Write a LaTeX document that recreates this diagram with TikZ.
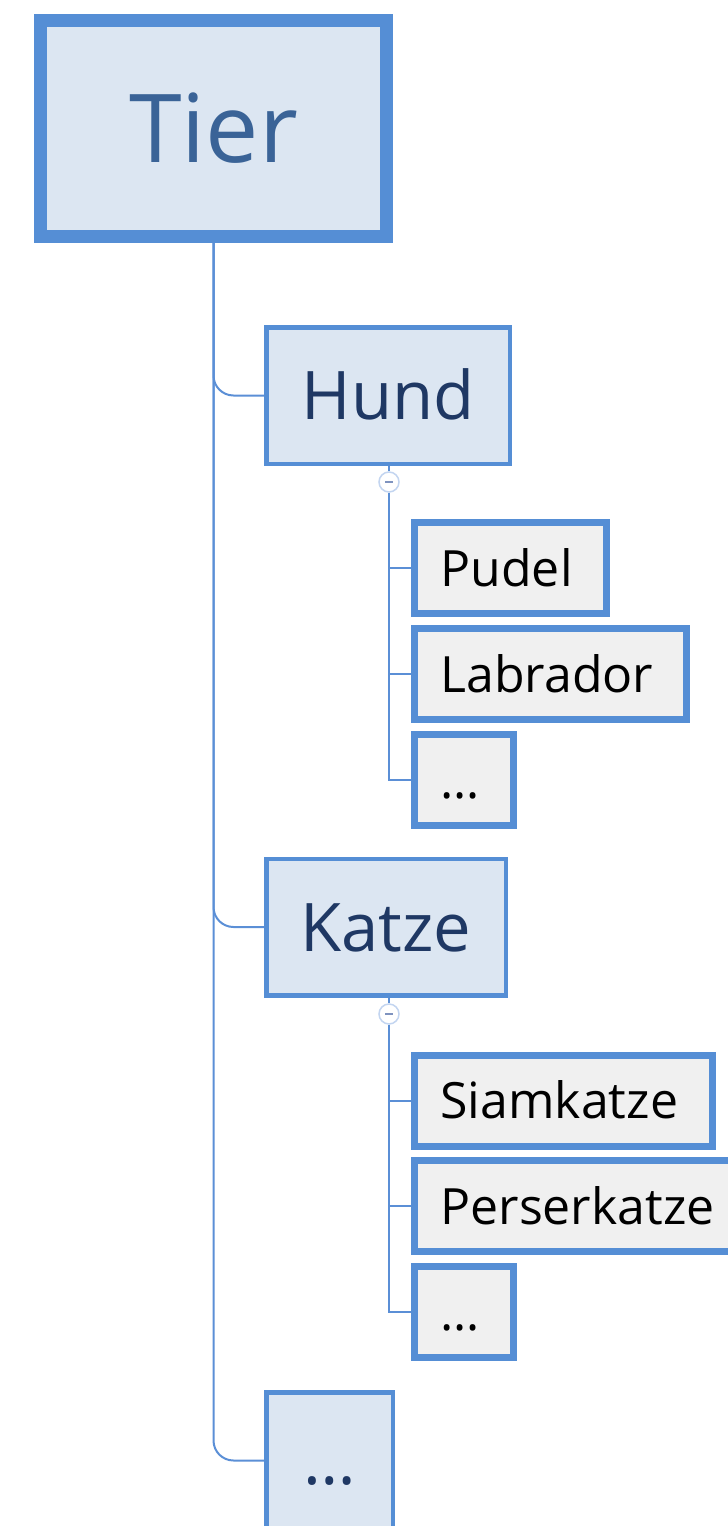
\documentclass[tikz,border=0pt]{standalone}
\usepackage{fontspec}
\setmainfont{Open Sans}
\definecolor{bord}{HTML}{558ED5}
\definecolor{pfill}{HTML}{DCE6F2}
\definecolor{lfill}{HTML}{F0F0F0}
\definecolor{navy}{HTML}{1F3864}
\definecolor{tiertext}{HTML}{3A6397}
\definecolor{conncol}{HTML}{5B8FD6}
\definecolor{collcol}{HTML}{C3D5F0}
\definecolor{minuscol}{HTML}{7F93BF}
\tikzset{
  rootbox/.style={draw=bord, fill=pfill, line width=13pt, inner sep=0pt,
    minimum width=346pt, minimum height=216pt, text=tiertext,
    font=\fontsize{95}{110}\selectfont, text height=67pt, text depth=0pt},
  parentbox/.style={draw=bord, fill=pfill, line width=4.5pt, inner sep=0pt,
    minimum height=136.5pt, text=navy,
    font=\fontsize{67}{78}\selectfont, text height=48pt, text depth=0pt},
  leafbox/.style={draw=bord, fill=lfill, line width=7pt, inner xsep=26pt, inner ysep=0pt,
    minimum height=91pt, anchor=west, align=left, text=black,
    font=\fontsize{50}{60}\selectfont, text height=36pt, text depth=0pt},
  conn/.style={draw=conncol, line width=2pt},
  mainconn/.style={conn, rounded corners=20pt},
  collbox/.style={circle, draw=collcol, fill=white, line width=1.5pt, minimum size=20pt, inner sep=0pt},
  minusline/.style={draw=minuscol, line width=1.5pt}
}
\begin{document}
\begin{tikzpicture}[x=1pt,y=-1pt]
\useasboundingbox (0,0) rectangle (728,1526);
\clip (0,0) rectangle (728,1526);

\node[rootbox] (tier) at (213.5,128.5) {Tier};
\node[parentbox, minimum width=243.5pt] (hund) at (388,395.5) {Hund};
\node[parentbox, minimum width=239.5pt] (katze) at (386,927) {Katze};
\node[parentbox, minimum width=126.5pt] (more) at (329.5,1460.5) {…};

\node[leafbox, text width=140pt] (pudel) at (411,568) {Pudel};
\node[leafbox, text width=220pt] (labrador) at (411,674) {Labrador};
\node[leafbox, text width=47pt] (hmore) at (411,780) {…};

\node[leafbox, text width=246pt] (siam) at (411,1100.5) {Siamkatze};
\node[leafbox, text width=270pt] (perser) at (411,1206) {Perserkatze};
\node[leafbox, text width=47pt] (kmore) at (411,1312) {…};

% main connectors
\draw[mainconn] (tier.south) |- (hund.west);
\draw[mainconn] (tier.south) |- (katze.west);
\draw[mainconn] (tier.south) |- (more.west);

% collapse markers
\node[collbox] (c1) at (389,482) {};
\node[collbox] (c2) at (389,1014) {};

\draw[conn] (c1 |- hund.south) -- (c1.north);
\draw[conn] (c1.south) |- (pudel.west);
\draw[conn] (c1.south) |- (labrador.west);
\draw[conn] (c1.south) |- (hmore.west);

\draw[conn] (c2 |- katze.south) -- (c2.north);
\draw[conn] (c2.south) |- (siam.west);
\draw[conn] (c2.south) |- (perser.west);
\draw[conn] (c2.south) |- (kmore.west);

\draw[minusline] ([xshift=-4pt]c1.center) -- ([xshift=4pt]c1.center);
\draw[minusline] ([xshift=-4pt]c2.center) -- ([xshift=4pt]c2.center);
\end{tikzpicture}
\end{document}
